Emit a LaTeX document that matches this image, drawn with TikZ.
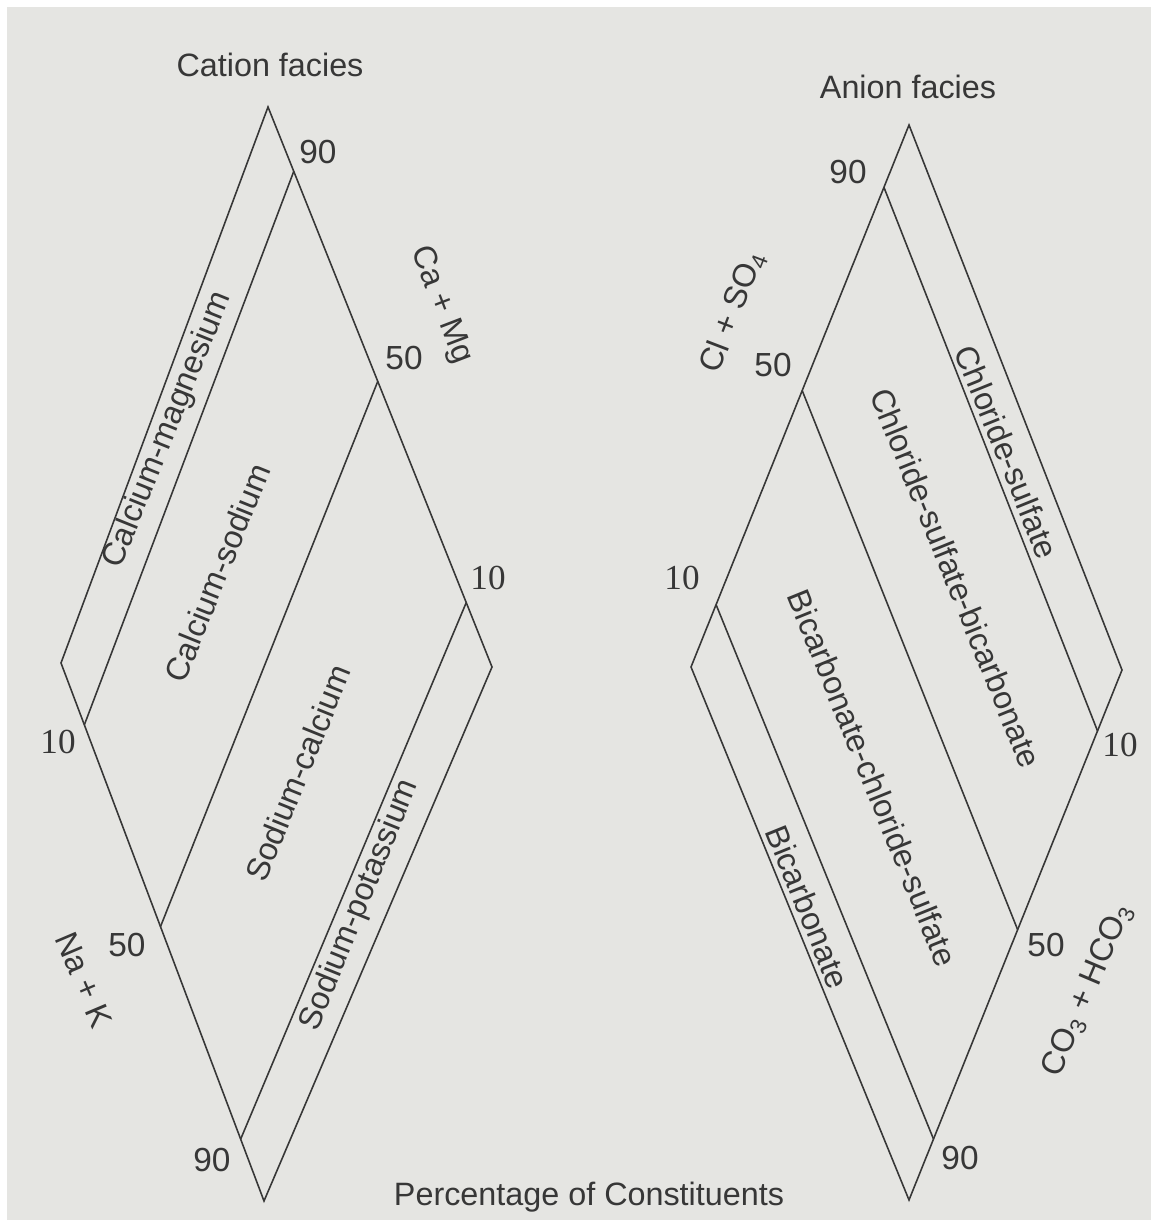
\documentclass[tikz,border=0pt]{standalone}
\usepackage{fontspec}
\setmainfont{Liberation Serif}
\setsansfont{Liberation Sans}
\usetikzlibrary{calc}

\definecolor{paper}{RGB}{229,229,226}
\definecolor{ink}{RGB}{55,55,55}

\begin{document}
\begin{tikzpicture}[ink, line width=0.9pt,
    lbl/.style={font=\sffamily\fontsize{18.4}{22}\selectfont, text=ink, inner sep=0pt},
    num/.style={font=\sffamily\fontsize{19}{22}\selectfont, text=ink, inner sep=0pt},
    tenlbl/.style={font=\rmfamily\fontsize{20}{22}\selectfont, text=ink, inner sep=0pt}]
                % Nền trang
                \useasboundingbox (0,0) rectangle (23.02,24.40);
                \fill[white] (0,0) rectangle (23.02,24.40);
                \fill[paper] (0.14,0) rectangle (23.02,24.26);
                
                % Đỉnh hình thoi cation
                \coordinate (cT) at (5.36,22.26);
                \coordinate (cL) at (1.22,11.14);
                \coordinate (cR) at (9.84,11.06);
                \coordinate (cB) at (5.28,0.38);
                
                % Đỉnh hình thoi anion
                \coordinate (aT) at (18.18,21.90);
                \coordinate (aL) at (13.82,11.06);
                \coordinate (aR) at (22.44,11.00);
                \coordinate (aB) at (18.18,0.40);
                
                % Điểm chia 10, 50, 90
                \coordinate (c1a) at ($(cT)!0.115!(cR)$);
                \coordinate (c1b) at ($(cL)!0.115!(cB)$);
                \coordinate (c2a) at ($(cT)!0.49!(cR)$);
                \coordinate (c2b) at ($(cL)!0.49!(cB)$);
                \coordinate (c3a) at ($(cT)!0.885!(cR)$);
                \coordinate (c3b) at ($(cL)!0.885!(cB)$);
                \coordinate (a1a) at ($(aT)!0.115!(aL)$);
                \coordinate (a1b) at ($(aR)!0.115!(aB)$);
                \coordinate (a2a) at ($(aT)!0.49!(aL)$);
                \coordinate (a2b) at ($(aR)!0.49!(aB)$);
                \coordinate (a3a) at ($(aT)!0.885!(aL)$);
                \coordinate (a3b) at ($(aR)!0.885!(aB)$);
                
                % Vẽ hai hình thoi
                \draw[line join=miter] (cT) -- (cR) -- (cB) -- (cL) -- cycle;
                \draw[line join=miter] (aT) -- (aR) -- (aB) -- (aL) -- cycle;
                
                % Đường chia vùng
                \draw (c1a) -- (c1b);
                \draw (c2a) -- (c2b);
                \draw (c3a) -- (c3b);
                \draw (a1a) -- (a1b);
                \draw (a2a) -- (a2b);
                \draw (a3a) -- (a3b);
                
                % Tiêu đề
                \node[lbl] (cation) at (5.40,23.10) {Cation facies};
                \node[lbl] (anion) at (18.16,22.66) {Anion facies};
                \node[lbl] (percent) at (11.78,0.46) {Percentage of Constituents};
                
                % Nhãn trục
                \node[lbl, rotate=-69] (camg) at (8.82,18.30) {Ca + Mg};
                \node[lbl, rotate=-67] (nak) at (1.68,4.80) {Na + K};
                \node[lbl, rotate=69] (clso) at (14.66,18.16) {Cl + SO\textsubscript{4}};
                \node[lbl, rotate=67] (cohco) at (21.76,4.60) {CO\textsubscript{3} + HCO\textsubscript{3}};
                
                % Tên các vùng cation
                \node[lbl, rotate=68] (camgf) at (3.36,15.80) {Calcium-magnesium};
                \node[lbl, rotate=68] (canaf) at (4.34,12.94) {Calcium-sodium};
                \node[lbl, rotate=68] (nacaf) at (5.96,8.94) {Sodium-calcium};
                \node[lbl, rotate=68] (nakf) at (7.20,6.30) {Sodium-potassium};
                
                % Tên các vùng anion
                \node[lbl, rotate=-68] (clsof) at (20.14,15.36) {Chloride-sulfate};
                \node[lbl, rotate=-68] (clsobf) at (19.12,12.84) {Chloride-sulfate-bicarbonate};
                \node[lbl, rotate=-68] (bclsof) at (17.46,8.84) {Bicarbonate-chloride-sulfate};
                \node[lbl, rotate=-68] (bicf) at (16.16,6.26) {Bicarbonate};
                
                % Số phần trăm
                \node[num] (c90) at (6.36,21.36) {90};
                \node[num] (c50) at (8.08,17.24) {50};
                \node[tenlbl] (c10) at (9.76,12.84) {10};
                \node[tenlbl] (n10) at (1.16,9.56) {10};
                \node[num] (n50) at (2.54,5.50) {50};
                \node[num] (n90) at (4.24,1.20) {90};
                \node[num] (a90) at (16.96,20.96) {90};
                \node[num] (a50) at (15.46,17.10) {50};
                \node[tenlbl] (a10) at (13.64,12.84) {10};
                \node[tenlbl] (h10) at (22.40,9.50) {10};
                \node[num] (h50) at (20.92,5.50) {50};
                \node[num] (h90) at (19.20,1.24) {90};
            \end{tikzpicture}
\end{document}
